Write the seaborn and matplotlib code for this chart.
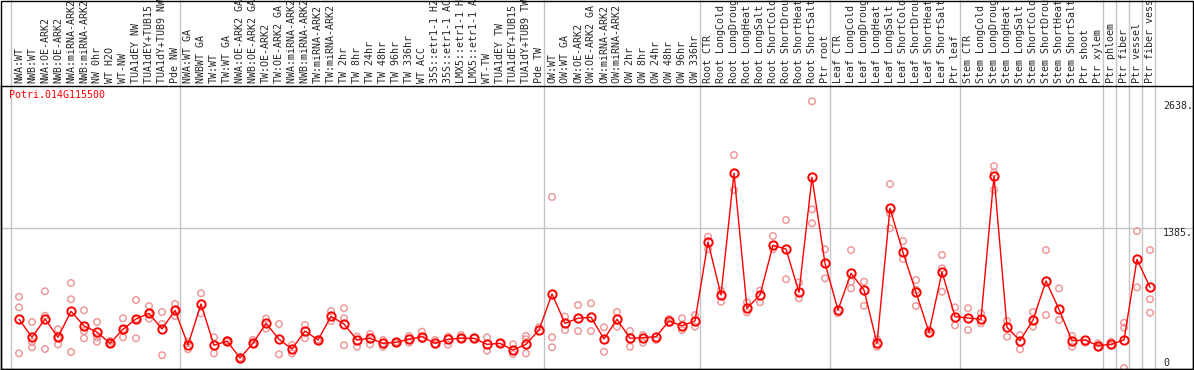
import numpy as np
import pandas as pd
import matplotlib
matplotlib.use("Agg")
import matplotlib.pyplot as plt
import matplotlib.transforms as mtransforms
from matplotlib.patches import Rectangle
import seaborn as sns

gene = "Potri.014G115500"

samples = [
    "NWA:WT", "NWB:WT", "NWA:OE-ARK2", "NWB:OE-ARK2", "NWA:miRNA-ARK2", "NWB:miRNA-ARK2",
    "NW 0hr", "WT H2O", "WT-NW", "TUA1dEY NW", "TUA1dEY+TUB15 NW", "TUA1dY+TUB9 NW", "Pde NW",
    "NWA:WT GA", "NWBWT GA", "TW:WT", "TW:WT GA", "NWA:OE-ARK2 GA", "NWB:OE-ARK2 GA",
    "TW:OE-ARK2", "TW:OE-ARK2 GA", "NWA:miRNA-ARK2 GA", "NWB:miRNA-ARK2 GA", "TW:miRNA-ARK2",
    "TW:miRNA-ARK2 GA", "TW 2hr", "TW 8hr", "TW 24hr", "TW 48hr", "TW 96hr", "TW 336hr",
    "WT ACC", "35S::etr1-1 H2O", "35S::etr1-1 ACC", "LMX5::etr1-1 H2O", "LMX5::etr1-1 ACC",
    "WT-TW", "TUA1dEY TW", "TUA1dEY+TUB15 TW", "TUA1dY+TUB9 TW", "Pde TW",
    "OW:WT", "OW:WT GA", "OW:OE-ARK2", "OW:OE-ARK2 GA", "OW:miRNA-ARK2", "OW:miRNA-ARK2 GA",
    "OW 2hr", "OW 8hr", "OW 24hr", "OW 48hr", "OW 96hr", "OW 336hr",
    "Root CTR", "Root LongCold", "Root LongDrought", "Root LongHeat", "Root LongSalt",
    "Root ShortCold", "Root ShortDrought", "Root ShortHeat", "Root ShortSalt", "Ptr root",
    "Leaf CTR", "Leaf LongCold", "Leaf LongDrought", "Leaf LongHeat", "Leaf LongSalt",
    "Leaf ShortCold", "Leaf ShortDrought", "Leaf ShortHeat", "Leaf ShortSalt", "Ptr leaf",
    "Stem CTR", "Stem LongCold", "Stem LongDrought", "Stem LongHeat", "Stem LongSalt",
    "Stem ShortCold", "Stem ShortDrought", "Stem ShortHeat", "Stem ShortSalt", "Ptr shoot",
    "Ptr xylem", "Ptr phloem", "Ptr fiber", "Ptr vessel", "Ptr fiber vessel",
]
group_sizes = [13, 28, 12, 10, 10, 11, 1, 1, 1, 1]

means = [
    482, 304, 485, 304, 561, 416, 356, 244, 383, 485, 541, 386, 571,
    228, 633, 225, 267, 99, 244, 442, 284, 188, 366, 277, 511, 435, 277, 294,
    244, 254, 284, 310, 244, 284, 294, 294, 234, 244, 178, 234, 376,
    732, 442, 492, 502, 287, 482, 294, 300, 310, 465, 418, 465,
    1247, 722, 1926, 591, 722, 1214, 1177, 749, 1887, 1036,
    574, 937, 772, 244, 1580, 1145, 749, 353, 950, 508,
    495, 482, 1899, 403, 270, 475, 861, 581, 270, 277,
    221, 234, 277, 1075, 798,
]

replicates = [
    [705, 600, 145], [455, 257, 205], [759, 517, 188], [383, 234, 304], [841, 680, 158],
    [571, 366, 294], [455, 304, 260], [267, 244, 237], [492, 304, 383], [673, 294, 485],
    [613, 488, 541], [554, 435, 126], [633, 514, 571],
    [260, 185], [739, 541], [304, 145], [260, 275], [95, 103], [277, 237], [488, 389],
    [435, 136], [228, 145], [425, 294], [272, 282], [564, 465], [591, 492, 225],
    [310, 211], [336, 234], [277, 211], [260, 244], [317, 250], [359, 284], [277, 228],
    [310, 231], [326, 294], [294], [304, 171], [250], [234, 139], [317, 284, 145], [403],
    [1692, 304, 205], [508, 376], [623, 366], [640, 366], [403, 161], [554, 409],
    [366, 211], [326, 250], [277], [485, 445], [492, 376], [524, 409],
    [1299, 1174], [765, 656], [2107, 1761], [650, 551], [765, 650], [1306, 1174],
    [1464, 878], [848, 690], [2638, 1570, 1432], [1174, 887],
    [541], [1167, 788, 854], [854, 616], [284, 211], [1820, 1530, 1382], [1256, 1078],
    [871, 613, 772], [376, 336], [1118, 986, 755], [600, 422],
    [591, 376], [541, 442], [1998, 1932, 1761], [465, 310], [326, 185], [554, 409],
    [1167, 524], [788, 475], [317, 211], [250],
    [244, 205], [260, 221], [448, 399, 0], [1355, 798], [1167, 680, 547],
]

y_ticks = [0, 1385, 2638]
y_tick_labels = ["0", "1385.", "2638."]

red = "#ff0000"
pink = "#ee9a9a"
grey = "#c4c4c4"
mono = "DejaVu Sans Mono"

pos = np.arange(len(samples))
mean_df = pd.DataFrame({"pos": pos, "value": means})
rep_df = pd.DataFrame(
    [(i, v) for i, reps in enumerate(replicates) for v in reps], columns=["pos", "value"]
)

W, H = 1194, 370
fig = plt.figure(figsize=(W / 100, H / 100), dpi=100)
sns.set_style("white")
ax = fig.add_axes([1 / W, 1 - 369 / H, 1192 / W, 283 / H])

ax.set_xlim((1 - 19) / 13, (1193 - 19) / 13)
ax.set_ylim(-9.9, 2790)

# grid/separators
ax.axhline(1385, color=grey, lw=1, zorder=0)
bounds = np.concatenate([[0], np.cumsum(group_sizes)])
for b in bounds:
    ax.axvline(b - 0.6, ymin=0, ymax=1 + 86 / 283, color=grey, lw=1, zorder=0, clip_on=False)

sns.scatterplot(data=rep_df, x="pos", y="value", ax=ax, marker="o", s=22,
                facecolor="none", edgecolor=pink, linewidth=1.1, zorder=2, legend=False)
sns.lineplot(data=mean_df, x="pos", y="value", ax=ax, color=red, lw=1, marker="o",
             markersize=6, markerfacecolor="none", markeredgecolor=red, markeredgewidth=1.4,
             zorder=3, legend=False)

ax.set_xticks([])
ax.set_yticks([])
ax.set_xlabel("")
ax.set_ylabel("")
for sp in ax.spines.values():
    sp.set_color("black")
    sp.set_linewidth(1)

trans = mtransforms.blended_transform_factory(ax.transData, ax.transAxes)
for i, lab in enumerate(samples):
    ax.text(i, 1 + 3 / 283, lab, rotation=90, ha="center", va="bottom", fontsize=7.2,
            family=mono, transform=trans, clip_on=False)

for v, lab in zip(y_ticks, y_tick_labels):
    ax.text(len(samples), v, lab, ha="left", va="bottom" if v == 0 else "top",
            fontsize=7.2, family=mono)

ax.text(-0.77, 1 - 4 / 283, gene, color=red, ha="left", va="top", fontsize=7.2,
        family=mono, transform=trans)

# outer frame around the label area
fig.patches.append(Rectangle((1 / W, 1 - 369 / H), 1192 / W, 369 / H - 0.5 / H,
                             transform=fig.transFigure, fill=False, ec="black", lw=1))

fig.savefig("out.png", dpi=100)
plt.close()
